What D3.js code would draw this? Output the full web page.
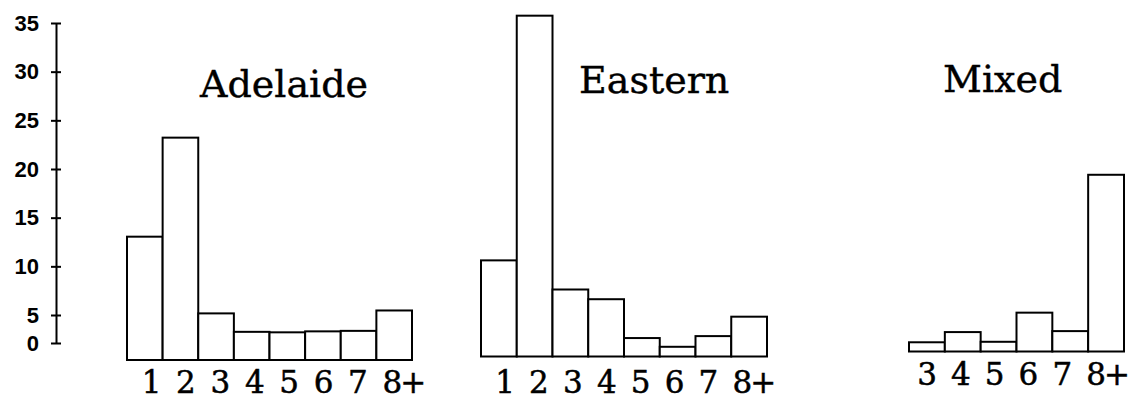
<!DOCTYPE html>
<html>
<head>
<meta charset="utf-8">
<script src="https://cdn.jsdelivr.net/npm/d3@7"></script>
<style>
  html, body { margin: 0; padding: 0; background: #fff; }
  svg { display: block; }
</style>
</head>
<body>
<svg id="chart" width="1132" height="400"></svg>
<script>
// ---- data ----
const yTicks = [0, 5, 10, 15, 20, 25, 30, 35];

const adelaideCategories = ["1", "2", "3", "4", "5", "6", "7", "8+"];
const adelaideValues     = [12.7, 22.9, 4.8, 2.9, 2.85, 2.95, 3.0, 5.1];

const easternCategories  = ["1", "2", "3", "4", "5", "6", "7", "8+"];
const easternValues      = [9.9, 35.1, 6.9, 5.9, 1.9, 1.0, 2.1, 4.1];

const mixedCategories    = ["3", "4", "5", "6", "7", "8+"];
const mixedValues        = [0.95, 2.0, 1.0, 4.0, 2.1, 18.2];

const panelTitles = ["Adelaide", "Eastern", "Mixed"];

// ---- layout ----
const pxPerUnit = 9.71;
const layout = [
  { x0: 127, x1: 412,  base: 360,   titleX: 200, titleY: 97,   labelY: 393, labelX0: 151.5, labelStep: 34.4 },
  { x0: 481, x1: 767,  base: 356.5, titleX: 579, titleY: 92.5, labelY: 393, labelX0: 505,   labelStep: 33.9 },
  { x0: 909, x1: 1124, base: 351.5, titleX: 943, titleY: 92,   labelY: 385, labelX0: 927,   labelStep: 33.8 }
];
const panelData = [
  { cats: adelaideCategories, vals: adelaideValues },
  { cats: easternCategories,  vals: easternValues },
  { cats: mixedCategories,    vals: mixedValues }
];

const svg = d3.select("#chart");

// ---- y axis (as drawn in the original) ----
const axisY = d3.scaleLinear().domain([0, 5, 35]).range([343, 315, 23]);
const axisG = svg.append("g").attr("transform", "translate(56,0)")
  .call(d3.axisLeft(axisY).tickValues(yTicks).tickSizeOuter(0).tickSizeInner(5).tickPadding(12));
axisG.select(".domain").attr("stroke", "#000").attr("stroke-width", 2);
axisG.selectAll(".tick line").attr("x1", 5).attr("x2", -5).attr("stroke", "#000").attr("stroke-width", 2);
axisG.selectAll(".tick text")
  .attr("font-family", "'Liberation Sans', Arial, sans-serif")
  .attr("font-size", 22).attr("font-weight", "bold").attr("fill", "#000");

// ---- panels ----
const digitHalf = 9.8;
panelData.forEach((p, i) => {
  const L = layout[i];
  const x = d3.scaleBand().domain(p.cats).range([L.x0, L.x1]).paddingInner(0).paddingOuter(0);
  const y = d3.scaleLinear().domain([0, 35]).range([L.base, L.base - 35 * pxPerUnit]);
  const lx = d3.scalePoint().domain(p.cats).range([L.labelX0, L.labelX0 + L.labelStep * (p.cats.length - 1)]);
  const g = svg.append("g");

  g.selectAll("rect").data(p.cats.map((c, j) => ({ c, v: p.vals[j] })))
    .enter().append("rect")
    .attr("x", d => x(d.c))
    .attr("y", d => y(d.v))
    .attr("width", x.bandwidth())
    .attr("height", d => y(0) - y(d.v))
    .attr("fill", "#fff")
    .attr("stroke", "#000")
    .attr("stroke-width", 2);

  g.selectAll("text.cat").data(p.cats).enter().append("text")
    .attr("class", "cat")
    .attr("x", d => lx(d) - digitHalf)
    .attr("y", L.labelY)
    .attr("text-anchor", "start")
    .attr("font-family", "'DejaVu Serif', serif")
    .attr("font-size", 31)
    .attr("letter-spacing", d => d.length > 1 ? -2 : 0)
    .attr("fill", "#000")
    .attr("stroke", "#000").attr("stroke-width", 0.5)
    .text(d => d);

  g.append("text")
    .attr("x", L.titleX).attr("y", L.titleY)
    .attr("font-family", "'DejaVu Serif', serif")
    .attr("font-size", 38)
    .attr("fill", "#000")
    .attr("stroke", "#000").attr("stroke-width", 0.4)
    .text(panelTitles[i]);
});
</script>
</body>
</html>
